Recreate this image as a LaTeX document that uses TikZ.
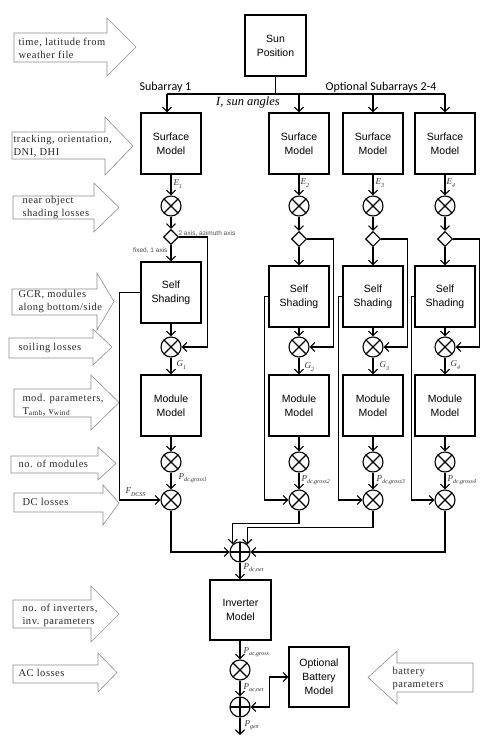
\documentclass[tikz,border=0pt]{standalone}
\usepackage{fontspec}
\setmainfont{Liberation Serif}
\newfontfamily\boxfont{Liberation Sans}
\newfontfamily\calfont{Carlito}
\newfontfamily\arrfont[LetterSpace=5]{Liberation Serif}
\usetikzlibrary{arrows.meta,shapes.geometric,calc}
\newcommand\blockarr[8]{\draw[blk] (#1,#4) -- (#2,#4) -- (#2,#6) -- (#3,#8) -- (#2,#7) -- (#2,#5) -- (#1,#5) -- cycle;}
\newcommand\vlab[2]{\textit{#1}\raisebox{-2.2pt}{\fontsize{6}{6}\selectfont\textit{#2}}}
\begin{document}
\begin{tikzpicture}[x=1pt,y=-1pt,line width=1.1pt,
  arr/.style={-{Straight Barb[length=4.5pt,width=9pt,line width=1.1pt]}},
  dbl/.style={{Straight Barb[length=4.5pt,width=9pt,line width=1.1pt]}-{Straight Barb[length=4.5pt,width=9pt,line width=1.1pt]}},
  blockbox/.style={draw,line width=1.3pt,minimum width=60pt,minimum height=61pt,inner sep=0pt,align=center,font=\boxfont\fontsize{10.5}{14}\selectfont},
  mult/.style={circle,draw,line width=1.1pt,minimum size=20pt,inner sep=0pt,
    path picture={\draw[line width=1.1pt] ([shift={(-10,-10)}]path picture bounding box.center) -- ([shift={(10,10)}]path picture bounding box.center) ([shift={(-10,10)}]path picture bounding box.center) -- ([shift={(10,-10)}]path picture bounding box.center);}},
  summ/.style={circle,draw,line width=1.1pt,minimum size=20pt,inner sep=0pt,
    path picture={\draw[line width=1.1pt] ([shift={(-10,0)}]path picture bounding box.center) -- ([shift={(10,0)}]path picture bounding box.center) ([shift={(0,-10)}]path picture bounding box.center) -- ([shift={(0,10)}]path picture bounding box.center);}},
  dmd/.style={diamond,draw,line width=1.1pt,minimum size=15pt,inner sep=0pt,aspect=1},
  blk/.style={draw=black!45,line width=0.6pt},
  atext/.style={anchor=west,align=left,inner sep=0pt,font=\arrfont\fontsize{10.5}{13}\selectfont,text=black!85},
  vl/.style={anchor=west,inner sep=0pt,font=\fontsize{9}{9}\selectfont,text=black!80},
  smalltxt/.style={inner sep=0pt,font=\boxfont\fontsize{6.5}{7}\selectfont,text=black!70},
]
\useasboundingbox (0,0) rectangle (495,743);

% ---- input block arrows ----
\blockarr{14}{107}{136}{33}{62}{18}{76}{47}
\node[atext] (t1) at (18,48.5) {time, latitude from\\weather file};
\blockarr{12}{105}{133}{132}{159}{117}{175}{146}
\node[atext] (t2) at (13,146) {tracking, orientation,\\DNI, DHI};
\blockarr{13}{94}{119}{196}{219}{183}{232}{207.5}
\node[atext] (t3) at (22,207.5) {near object\\shading losses};
\blockarr{12}{97}{114}{289}{315}{273}{330}{301.5}
\node[atext] (t4) at (18,301.5) {GCR, modules\\along bottom/side};
\blockarr{9}{93}{112}{338}{358}{329}{365}{347}
\node[atext] (t5) at (18,348) {soiling losses};
\blockarr{14}{91}{119}{389}{417}{375}{430}{402.5}
\node[atext] (t6) at (22,405) {mod. parameters,\\T\textsubscript{amb}, v\textsubscript{wind}};
\blockarr{11}{98}{116}{456}{473}{447}{480}{463.5}
\node[atext] (t7) at (18,464) {no. of modules};
\blockarr{14}{103}{119}{493}{512}{485}{525}{503}
\node[atext] (t8) at (22,502) {DC losses};
\blockarr{13}{91}{119}{600}{628}{586}{642}{614}
\node[atext] (t9) at (22,615) {no. of inverters,\\inv. parameters};
\blockarr{13}{98}{117}{665}{683}{653}{692}{672.5}
\node[atext] (t10) at (18,673) {AC losses};
\blockarr{473}{397}{368}{663}{692}{651}{704}{677.5}
\node[atext] (t11) at (392,678) {battery\\parameters};

% ---- sun position and bus ----
\node[blockbox,minimum width=61pt] (sun) at (275.5,45.5) {Sun\\Position};
\coordinate (busL) at (167,94);
\coordinate (busR) at (445,94);
\coordinate (busS) at (275.5,94);
\draw (sun.south) -- (busS);
\draw (busL) -- (busR);
\node[anchor=west,inner sep=0pt,font=\calfont\fontsize{12}{12}\selectfont] (sa1) at (139,87) {Subarray 1};
\node[anchor=west,inner sep=0pt,font=\calfont\fontsize{12}{12}\selectfont] (sa2) at (325,87) {Optional Subarrays 2-4};
\node[inner sep=0pt,font=\itshape\fontsize{12.5}{12.5}\selectfont] (ang) at (248,102) {I, sun angles};

% ---- column 1 ----
\node[blockbox] (sm1) at (171,143.5) {Surface\\Model};
\node[mult] (e1) at (171,206) {};
\node[dmd] (d1) at (171,237) {};
\node[blockbox] (ss1) at (171,292.5) {Self\\Shading};
\node[mult] (g1) at (171,347) {};
\node[blockbox] (mm1) at (171,405.5) {Module\\Model};
\node[mult] (p1) at (171,462) {};
\node[mult] (f1) at (171,500) {};
% ---- columns 2-4 ----
\foreach \i/\x in {2/299,3/373,4/445}{
  \node[blockbox] (sm\i) at (\x,143.5) {Surface\\Model};
  \node[mult] (e\i) at (\x,206) {};
  \node[dmd] (d\i) at (\x,239) {};
  \node[blockbox] (ss\i) at (\x,296.5) {Self\\Shading};
  \node[mult] (g\i) at (\x,347) {};
  \node[blockbox] (mm\i) at (\x,405.5) {Module\\Model};
  \node[mult] (p\i) at (\x,462) {};
  \node[mult] (f\i) at (\x,500) {};
}

% ---- column connectors ----
\draw[arr] (busL) -- (busL |- sm1.north);
\foreach \i in {2,3,4}{\draw[arr] (sm\i.north |- busL) -- (sm\i.north);}
\foreach \i in {1,2,3,4}{
  \draw[arr] (sm\i) -- (e\i);
  \draw[arr] (e\i) -- (d\i);
  \draw[arr] (d\i) -- (ss\i);
  \draw[arr] (ss\i) -- (g\i);
  \draw[arr] (g\i) -- (mm\i);
  \draw[arr] (mm\i) -- (p\i);
  \draw[arr] (p\i) -- (f\i);
}
\draw[arr] (d1.east) -- ++(28.5,0) |- (g1.east);
\foreach \i in {2,3,4}{\draw[arr] (d\i.east) -- ++(26,0) |- (g\i.east);}
\draw[arr] (ss1.west) -- ++(-21,0) |- (f1.west);
\draw[arr] (ss2.west) -- ++(-4,0) |- (f2.west);
\draw[arr] (ss3.west) -- ++(-4,0) |- (f3.west);
\draw[arr] (ss4.west) -- ++(-3,0) |- (f4.west);

\node[smalltxt,anchor=west] (ax2) at (178,234) {2 axis, azimuth axis};
\node[smalltxt,anchor=east] (ax1) at (168,251) {fixed, 1 axis};

% ---- labels ----
\node[vl] (le1) at (173,184) {\vlab{E}{1}};
\node[vl] (le2) at (300,183) {\vlab{E}{2}};
\node[vl] (le3) at (375,183) {\vlab{E}{3}};
\node[vl] (le4) at (446,183) {\vlab{E}{4}};
\node[vl] (lg1) at (176,365) {\vlab{G}{1}};
\node[vl] (lg2) at (304,367) {\vlab{G}{2}};
\node[vl] (lg3) at (379,366) {\vlab{G}{3}};
\node[vl] (lg4) at (450,365) {\vlab{G}{4}};
\node[vl] (lp1) at (178,478) {\vlab{P}{dc,gross1}};
\node[vl] (lp2) at (301,480) {\vlab{P}{dc,gross2}};
\node[vl] (lp3) at (376,480) {\vlab{P}{dc,gross3}};
\node[vl] (lp4) at (447,480) {\vlab{P}{dc,gross4}};
\node[vl] (lf) at (125,492) {\vlab{F}{DCSS}};

% ---- combining and inverter ----
\node[summ] (sdc) at (240,552) {};
\draw[arr] (f1.south) |- (sdc.west);
\draw[arr] (f2.south) -- ++(0,13) -| (sdc.134);
\draw[arr] (f3.south) -- ++(0,17) -| (sdc.46);
\draw[arr] (f4.south) |- (sdc.east);
\node[blockbox,minimum width=61pt,minimum height=60pt] (inv) at (240.5,610) {Inverter\\Model};
\node[mult] (pac) at (240,670) {};
\node[summ] (sac) at (240,707) {};
\coordinate (out) at (240,735);
\node[blockbox,minimum height=60pt] (bat) at (319,677) {Optional\\Battery\\Model};
\draw[arr] (sdc.south) -- (sdc.south |- inv.north);
\draw[arr] (pac.north |- inv.south) -- (pac.north);
\draw[arr] (pac) -- (sac);
\draw[arr] (sac) -- (out);
\draw[dbl] (bat.west) -- ++(-19,0) |- (sac.east);

\node[vl] (lpdn) at (243,568) {\vlab{P}{dc,net}};
\node[vl] (lpag) at (243,652) {\vlab{P}{ac,gross}};
\node[vl] (lpan) at (243,688) {\vlab{P}{ac,net}};
\node[vl] (lpg) at (244,725) {\vlab{P}{gen}};
\end{tikzpicture}
\end{document}
